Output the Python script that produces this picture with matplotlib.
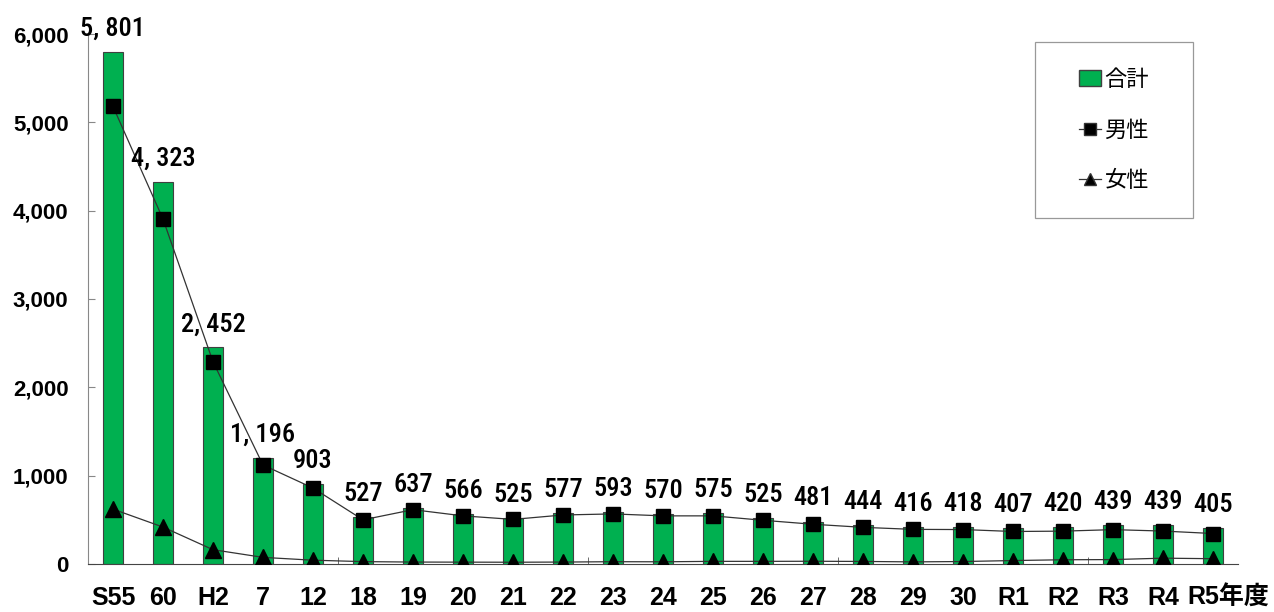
import matplotlib
matplotlib.use("Agg")
import matplotlib.pyplot as plt
import matplotlib.transforms as mtransforms
import numpy as np
from matplotlib.patches import Patch, Rectangle
from matplotlib.lines import Line2D

plt.rcParams['font.family'] = ['Liberation Sans', 'Noto Sans CJK JP', 'DejaVu Sans']

years = ["S55", "60", "H2", "7", "12", "18", "19", "20", "21", "22", "23",
         "24", "25", "26", "27", "28", "29", "30", "R1", "R2", "R3", "R4", "R5年度"]
total = [5801, 4323, 2452, 1196, 903, 527, 637, 566, 525, 577, 593,
         570, 575, 525, 481, 444, 416, 418, 407, 420, 439, 439, 405]
male = [5180, 3905, 2290, 1121, 860, 500, 615, 545, 505, 555, 567,
        545, 545, 495, 450, 415, 392, 390, 368, 372, 389, 373, 345]
female = [621, 418, 162, 75, 43, 27, 22, 21, 20, 22, 26,
          25, 30, 30, 31, 29, 24, 28, 39, 48, 50, 66, 60]

x = np.arange(len(years))

fig = plt.figure(figsize=(12.74, 6.12), dpi=100, facecolor="white")
ax = fig.add_axes([88/1274, 1 - 564/612, 1150/1274, 530/612])

ax.bar(x, total, width=0.4, color="#00B050", edgecolor="#404040", linewidth=0.8, zorder=2)
ax.plot(x, male, color="#333333", lw=0.9, marker="s", markersize=10,
        markerfacecolor="black", markeredgecolor="black", zorder=3)
ax.plot(x, female, color="#333333", lw=0.9, marker="^", markersize=11,
        markerfacecolor="black", markeredgecolor="black", zorder=3)

# value labels above each bar
for xi, v in zip(x, total):
    ax.annotate(f"{v:,}".replace(",", ", "), (xi, v), xytext=(0, 8),
                textcoords="offset points", ha="center", va="bottom",
                fontsize=19, family="Roboto Condensed", fontweight=500)

ax.set_xlim(-0.5, len(years) - 0.5)
ax.set_ylim(0, 6000)
ax.set_yticks(np.arange(0, 6001, 1000))
ax.set_yticklabels([f"{v:,}" for v in range(0, 6001, 1000)], fontsize=16, fontweight="bold")

# category labels, with short inner ticks every five categories
ax.set_xticks(x)
ax.set_xticklabels(years, fontsize=18, fontweight="bold")
ax.tick_params(axis="x", length=0, pad=16)
ax.set_xticks(np.arange(-0.5, len(years), 5), minor=True)
ax.tick_params(axis="x", which="minor", direction="in", length=5, color="#555555")
ax.tick_params(axis="y", direction="in", length=5, color="#888888", pad=14)

last = ax.get_xticklabels()[-1]
last.set_transform(last.get_transform() +
                   mtransforms.ScaledTranslation(15/100, 0, fig.dpi_scale_trans))

for s in ("top", "right"):
    ax.spines[s].set_visible(False)
ax.spines["left"].set_color("#888888")
ax.spines["bottom"].set_color("#444444")

# legend box
fig.patches.append(Rectangle((1035/1274, 1 - 218/612), 158/1274, 176/612,
                             transform=fig.transFigure, facecolor="white",
                             edgecolor="#999999", linewidth=0.9, zorder=5))
handles = [
    Patch(facecolor="#00B050", edgecolor="#404040", label="合計"),
    Line2D([], [], color="#333333", lw=0.9, marker="s", markersize=8,
           markerfacecolor="black", label="男性"),
    Line2D([], [], color="#333333", lw=0.9, marker="^", markersize=9,
           markerfacecolor="black", label="女性"),
]
leg = fig.legend(handles=handles, loc="center", bbox_to_anchor=(1114/1274, 1 - 130/612),
                 prop={'family': ['Noto Sans CJK JP'], 'size': 16},
                 frameon=False, handlelength=1.0, handletextpad=0.15,
                 labelspacing=1.25, borderpad=0)
leg.set_zorder(6)

fig.savefig("out.png", dpi=100)
